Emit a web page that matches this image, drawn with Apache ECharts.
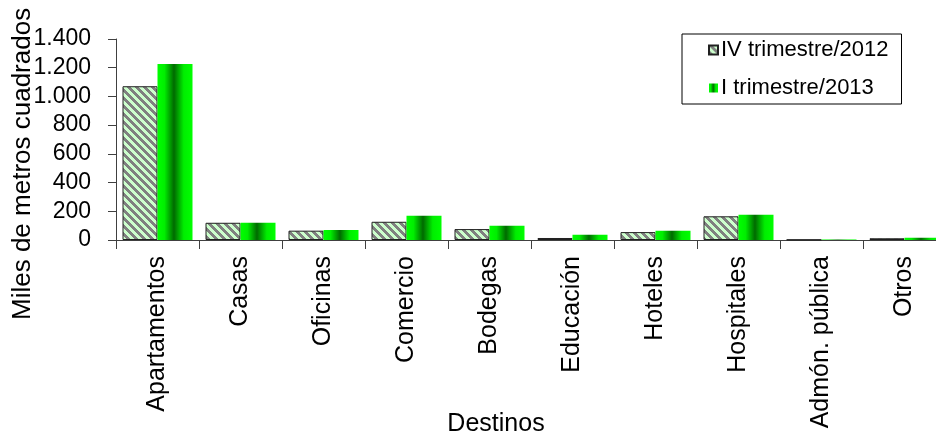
<!DOCTYPE html>
<html>
<head>
<meta charset="utf-8">
<script src="https://cdn.jsdelivr.net/npm/echarts@6/dist/echarts.min.js"></script>
<style>
html,body{margin:0;padding:0;background:#fff;overflow:hidden;width:936px;height:436px;}
#c{width:960px;height:436px;}
</style>
</head>
<body>
<div id="c"></div>
<script>
var categories = ['Apartamentos','Casas','Oficinas','Comercio','Bodegas','Educación','Hoteles','Hospitales','Admón. pública','Otros'];
var seriesNames = ['IV trimestre/2012','I trimestre/2013'];
var valuesQ4_2012 = [1071, 120, 65, 127, 76, 14, 55, 165, 2, 12];
var valuesQ1_2013 = [1226, 120, 70, 169, 99, 37, 64, 176, 3, 16];
var yTicks = [0, 200, 400, 600, 800, 1000, 1200, 1400];

var FONT = '"Liberation Sans", Arial, sans-serif';

// stripe pattern for first series
var P = 8;
var pc = document.createElement('canvas');
pc.width = P; pc.height = P;
var pctx = pc.getContext('2d');
for (var x = 0; x < P; x++) {
  for (var y = 0; y < P; y++) {
    var k = ((x - y) % P + P) % P;
    pctx.fillStyle = k < P / 2 ? '#808080' : '#ccffcc';
    pctx.fillRect(x, y, 1, 1);
  }
}

var greenGrad = new echarts.graphic.LinearGradient(0, 0, 1, 0, [
  {offset: 0, color: '#00ff00'},
  {offset: 0.2, color: '#00ee00'},
  {offset: 0.47, color: '#006a00'},
  {offset: 0.75, color: '#00ee00'},
  {offset: 1, color: '#00ff00'}
]);

function fmt(v) {
  return String(v).replace(/\B(?=(\d{3})+(?!\d))/g, '.');
}

var chart = echarts.init(document.getElementById('c'), null, {renderer: 'canvas'});
chart.setOption({
  animation: false,
  backgroundColor: '#ffffff',
  grid: {left: 116, top: 39, height: 201, width: 830, containLabel: false},
  legend: {
    orient: 'vertical',
    left: 682, top: 34,
    padding: [5, 13, 5, 26],
    icon: 'rect',
    itemWidth: 9, itemHeight: 9,
    itemGap: 16,
    borderColor: '#000000', borderWidth: 1,
    textStyle: {fontFamily: FONT, fontSize: 22, color: '#000', lineHeight: 22, padding: [0,0,0,-2]},
    data: seriesNames
  },
  xAxis: {
    type: 'category',
    data: categories,
    boundaryGap: true,
    axisLine: {lineStyle: {color: '#404040', width: 1}},
    axisTick: {show: true, length: 9, lineStyle: {color: '#404040'}},
    axisLabel: {
      rotate: 90, interval: 0, margin: 16,
      fontFamily: FONT, fontSize: 25, color: '#000'
    },
    splitLine: {show: false}
  },
  yAxis: {
    type: 'value',
    min: yTicks[0], max: yTicks[yTicks.length - 1], interval: 200,
    axisLine: {show: true, lineStyle: {color: '#404040', width: 1}},
    axisTick: {show: true, length: 8, lineStyle: {color: '#404040'}},
    axisLabel: {
      margin: 25, fontFamily: FONT, fontSize: 23, color: '#000',
      formatter: function (v) { return fmt(v); }
    },
    splitLine: {show: false}
  },
  graphic: [
    {
      type: 'text',
      rotation: Math.PI / 2,
      style: {text: 'Miles de metros cuadrados', font: '26px ' + FONT, fill: '#000'},
      x: 10, y: 320
    },
    {
      type: 'text',
      style: {text: 'Destinos', font: '25px ' + FONT, fill: '#000', textAlign: 'center', textVerticalAlign: 'middle'},
      x: 496, y: 424
    }
  ],
  series: [
    {
      name: seriesNames[0], type: 'bar', data: valuesQ4_2012,
      barWidth: 35, barGap: '0%',
      itemStyle: {color: {image: pc, repeat: 'repeat'}, borderColor: '#202020', borderWidth: 1}
    },
    {
      name: seriesNames[1], type: 'bar', data: valuesQ1_2013,
      barWidth: 35, barGap: '0%',
      itemStyle: {color: greenGrad}
    }
  ]
});
</script>
</body>
</html>
